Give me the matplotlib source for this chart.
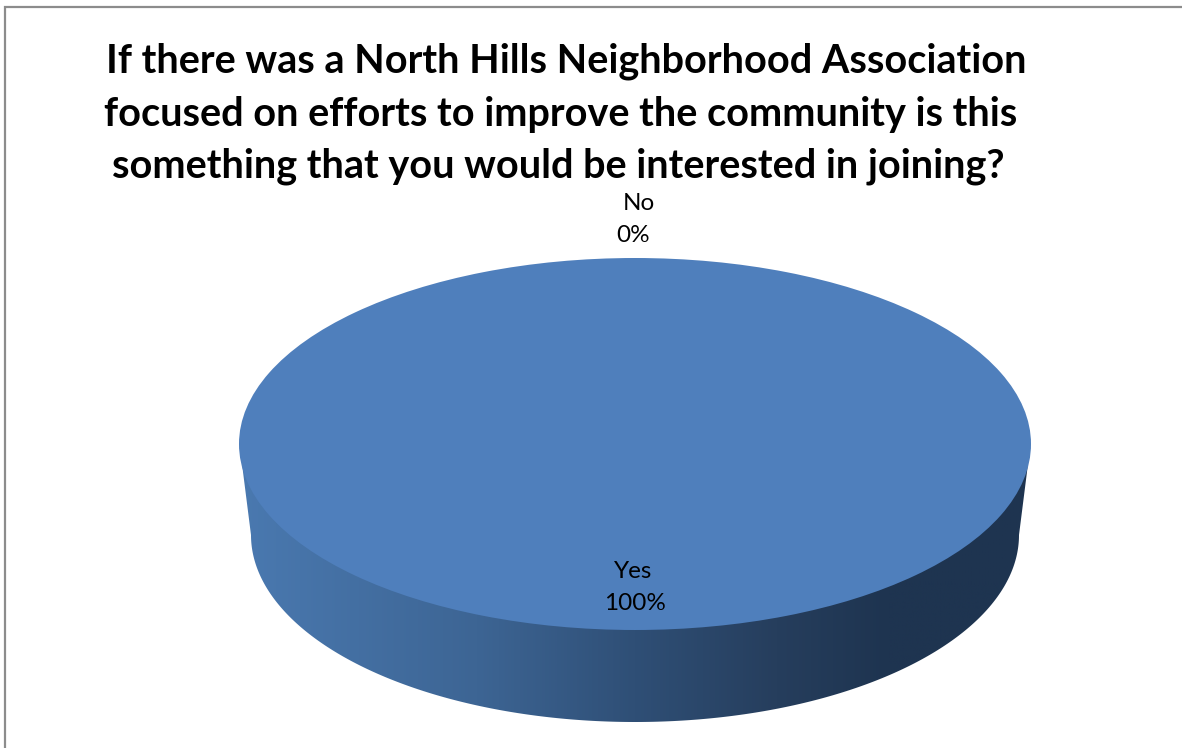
import numpy as np
import matplotlib
matplotlib.use('Agg')
import matplotlib.pyplot as plt
from matplotlib.patches import Rectangle

title_lines = ["If there was a North Hills Neighborhood Association",
               "focused on efforts to improve the community is this",
               "something that you would be interested in joining?"]
categories = ["Yes", "No"]
values = [100, 0]
side_stops = [(0.0, '#4a79b0'), (0.3, '#3d6594'), (0.5, '#2f4f76'), (0.68, '#263e5d'),
              (0.82, '#1e3450'), (1.0, '#1e3450')]

W, H = 1182, 748
fig = plt.figure(figsize=(W / 100, H / 100), dpi=100, facecolor='white')
ax = fig.add_axes([0, 0, 1, 1])
ax.set_xlim(0, W)
ax.set_ylim(H, 0)
ax.axis('off')

# chart frame
ax.add_patch(Rectangle((5, 7), W + 20, H + 20, fc='white', ec='#8c8c8c', lw=1.6))

cx, cy, rx, ry = 635, 444, 396, 186
bot_y, bot_rx, bot_ry = 535, 384, 187

# side wall of the disc, shaded left to right
cmap = matplotlib.colors.LinearSegmentedColormap.from_list('side', side_stops)
grad = np.linspace(0, 1, 512).reshape(1, -1)
im = ax.imshow(grad, cmap=cmap, extent=[cx - rx, cx + rx, bot_y + bot_ry + 2, cy],
               aspect='auto', zorder=2)
ax.set_xlim(0, W)
ax.set_ylim(H, 0)
t = np.linspace(0, np.pi, 300)
xs = cx + bot_rx * np.cos(t)
ys = bot_y + bot_ry * np.sin(t)
# straight slanted edges run up from the bottom ellipse to the top face
outline = np.r_[[[cx + rx - 3, cy + 20]], np.c_[xs, ys], [[cx - rx + 3, cy + 20]]]
wall = plt.Polygon(outline, closed=True, transform=ax.transData, fc='none', ec='none')
ax.add_patch(wall)
im.set_clip_path(wall)

# top face through the library's pie, squashed into an ellipse
pie_ax = fig.add_axes([(cx - rx) / W, 1 - (cy + ry) / H, 2 * rx / W, 2 * ry / H])
pie_ax.pie(values, startangle=90, colors=['#4f7fbc', '#c0504d'], radius=1.0)
pie_ax.set_aspect('auto')
pie_ax.set_xlim(-1, 1)
pie_ax.set_ylim(-1, 1)
pie_ax.axis('off')

font = 'Lato'
for line, x, y in zip(title_lines, [566, 561, 558], [61, 114, 166]):
    ax.text(x, y, line, ha='center', va='center', fontsize=28.5, fontweight='bold',
            family=font, color='black', zorder=5)

# data labels, each line placed on its own as in the reference
label_pos = {"Yes": [(633, 571), (635, 604)], "No": [(639, 203), (633, 235)]}
for cat, val in zip(categories, values):
    (x1, y1), (x2, y2) = label_pos[cat]
    fig.text(x1 / W, 1 - y1 / H, cat, ha='center', va='center', fontsize=17.5,
             family=font, zorder=6)
    fig.text(x2 / W, 1 - y2 / H, f"{val}%", ha='center', va='center', fontsize=17.5,
             family=font, zorder=6)

fig.savefig('out.png', dpi=100)
